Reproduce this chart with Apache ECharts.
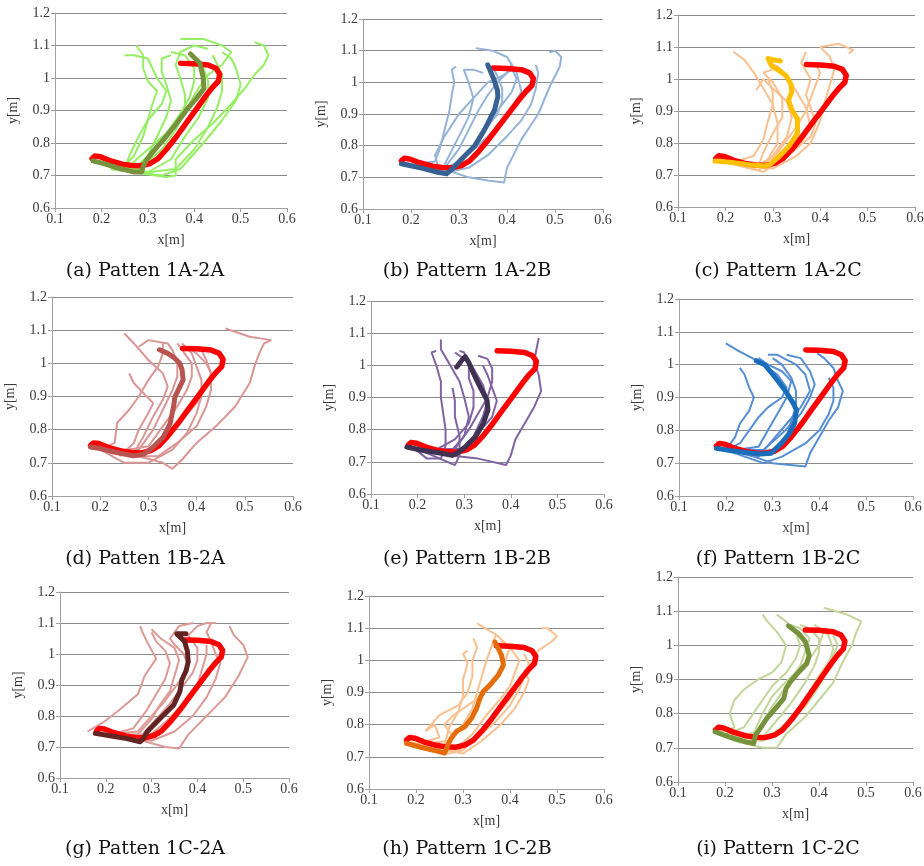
<!DOCTYPE html>
<html><head><meta charset="utf-8">
<script src="https://cdn.jsdelivr.net/npm/echarts@6/dist/echarts.min.js"></script>
<style>html,body{margin:0;padding:0;background:#fff}#c{width:924px;height:866px}</style>
</head><body><div id="c"></div><script>
// Reference (red) trajectory, common to every panel
const redRef = [[0.371,1.045],[0.40,1.044],[0.43,1.04],[0.447,1.03],[0.455,1.012],[0.452,0.99],[0.44,0.972],[0.425,0.945],[0.405,0.905],[0.383,0.862],[0.362,0.82],[0.34,0.78],[0.322,0.752],[0.305,0.737],[0.285,0.73],[0.265,0.731],[0.245,0.735],[0.218,0.746],[0.197,0.758],[0.186,0.76],[0.18,0.752]];

// Panel (a)
const meanA = [[0.392,1.074],[0.412,1.046],[0.419,1.004],[0.421,0.968],[0.408,0.943],[0.383,0.901],[0.362,0.86],[0.333,0.809],[0.308,0.768],[0.297,0.747],[0.29,0.727],[0.287,0.711],[0.269,0.711],[0.24,0.721],[0.211,0.734],[0.182,0.745]];
const lightA = [
 [[0.19,0.745],[0.25,0.73],[0.27,0.76],[0.29,0.82],[0.30,0.87],[0.31,0.92],[0.32,0.96],[0.30,0.99],[0.29,1.03],[0.29,1.07],[0.275,1.10]],
 [[0.19,0.745],[0.27,0.72],[0.30,0.76],[0.32,0.82],[0.34,0.88],[0.35,0.93],[0.34,0.98],[0.33,1.02],[0.33,1.06],[0.35,1.07]],
 [[0.20,0.74],[0.28,0.72],[0.33,0.78],[0.36,0.84],[0.38,0.90],[0.38,0.95],[0.37,1.00],[0.36,1.04],[0.37,1.08],[0.40,1.10],[0.43,1.09]],
 [[0.20,0.74],[0.30,0.71],[0.35,0.75],[0.38,0.82],[0.41,0.88],[0.43,0.94],[0.43,0.99],[0.42,1.03],[0.40,1.06],[0.39,1.08]],
 [[0.21,0.73],[0.30,0.71],[0.36,0.72],[0.40,0.78],[0.43,0.85],[0.45,0.91],[0.46,0.96],[0.46,1.01],[0.45,1.04],[0.44,1.07]],
 [[0.22,0.72],[0.33,0.70],[0.37,0.72],[0.42,0.80],[0.46,0.87],[0.49,0.93],[0.50,0.98],[0.49,1.03],[0.48,1.06],[0.46,1.08]],
 [[0.22,0.72],[0.34,0.695],[0.36,0.70],[0.36,0.75],[0.40,0.81],[0.44,0.86],[0.48,0.92],[0.51,0.97],[0.53,1.01],[0.55,1.04],[0.56,1.07],[0.55,1.10],[0.53,1.11]],
 [[0.22,0.73],[0.28,0.73],[0.32,0.79],[0.36,0.86],[0.39,0.92],[0.41,0.97],[0.43,1.01],[0.46,1.04],[0.48,1.08],[0.46,1.10],[0.42,1.12],[0.37,1.12]],
 [[0.25,0.72],[0.26,0.76],[0.28,0.82],[0.30,0.87],[0.33,0.92],[0.34,0.96],[0.32,1.0],[0.31,1.03],[0.30,1.06],[0.27,1.07],[0.25,1.07]],
 [[0.26,0.73],[0.30,0.78],[0.34,0.83],[0.37,0.89],[0.39,0.94],[0.40,0.99],[0.40,1.03],[0.38,1.07],[0.35,1.08]]
];

// Panel (b)
const meanB = [[0.36,1.055],[0.367,1.03],[0.373,1.008],[0.38,0.975],[0.381,0.955],[0.374,0.913],[0.353,0.85],[0.333,0.80],[0.305,0.757],[0.285,0.725],[0.274,0.711],[0.256,0.716],[0.222,0.729],[0.18,0.743]];
const lightB = [
 [[0.20,0.74],[0.28,0.72],[0.32,0.70],[0.36,0.69],[0.394,0.684],[0.40,0.73],[0.43,0.82],[0.465,0.90],[0.49,0.99],[0.51,1.05],[0.513,1.08],[0.50,1.10],[0.488,1.095]],
 [[0.19,0.745],[0.27,0.715],[0.32,0.73],[0.36,0.77],[0.40,0.83],[0.43,0.88],[0.45,0.93],[0.46,0.98],[0.465,1.03],[0.46,1.055]],
 [[0.19,0.745],[0.26,0.72],[0.30,0.75],[0.34,0.80],[0.38,0.86],[0.41,0.92],[0.43,0.97],[0.42,1.03],[0.40,1.08],[0.37,1.10],[0.335,1.108]],
 [[0.20,0.74],[0.27,0.73],[0.30,0.79],[0.32,0.85],[0.34,0.91],[0.36,0.96],[0.38,1.0],[0.40,1.03],[0.41,1.06]],
 [[0.20,0.74],[0.25,0.75],[0.26,0.79],[0.27,0.85],[0.28,0.91],[0.285,0.96],[0.29,1.00],[0.285,1.04],[0.294,1.05]],
 [[0.21,0.74],[0.26,0.71],[0.28,0.77],[0.30,0.83],[0.32,0.89],[0.33,0.95],[0.32,1.00],[0.31,1.04],[0.33,1.04],[0.35,1.03]],
 [[0.22,0.73],[0.29,0.72],[0.32,0.78],[0.35,0.84],[0.38,0.90],[0.39,0.94],[0.39,0.98],[0.38,1.02],[0.37,1.05]],
 [[0.22,0.73],[0.26,0.71],[0.25,0.77],[0.27,0.83],[0.30,0.90],[0.33,0.95],[0.36,1.0],[0.39,1.02],[0.41,1.04]],
 [[0.24,0.72],[0.30,0.74],[0.33,0.80],[0.36,0.87],[0.39,0.93],[0.41,0.97],[0.42,1.01],[0.41,1.045]]
];

// Panel (c)
const meanC = [[0.316,1.056],[0.30,1.06],[0.29,1.064],[0.288,1.058],[0.298,1.04],[0.315,1.025],[0.328,1.01],[0.338,0.985],[0.34,0.96],[0.336,0.945],[0.333,0.933],[0.34,0.905],[0.352,0.875],[0.352,0.83],[0.334,0.79],[0.313,0.757],[0.295,0.734],[0.283,0.728],[0.25,0.732],[0.21,0.74],[0.178,0.744]];
const lightC = [
 [[0.19,0.745],[0.26,0.72],[0.29,0.75],[0.31,0.80],[0.31,0.86],[0.30,0.92],[0.28,0.97],[0.26,1.02],[0.24,1.06],[0.217,1.085]],
 [[0.19,0.745],[0.27,0.715],[0.30,0.76],[0.33,0.82],[0.34,0.88],[0.33,0.93],[0.30,0.97],[0.28,1.0],[0.265,0.965]],
 [[0.20,0.74],[0.28,0.71],[0.32,0.75],[0.36,0.80],[0.38,0.85],[0.37,0.91],[0.35,0.96],[0.33,1.01],[0.31,1.04],[0.29,1.05]],
 [[0.20,0.74],[0.29,0.72],[0.34,0.77],[0.38,0.82],[0.39,0.86],[0.38,0.91],[0.37,0.95],[0.38,1.0],[0.36,1.05],[0.37,1.085]],
 [[0.20,0.74],[0.30,0.72],[0.35,0.76],[0.38,0.80],[0.40,0.87],[0.41,0.93],[0.42,0.98],[0.43,1.03],[0.42,1.07],[0.40,1.10],[0.44,1.11],[0.47,1.09],[0.46,1.08]],
 [[0.21,0.74],[0.27,0.73],[0.28,0.77],[0.30,0.83],[0.32,0.88],[0.32,0.94],[0.30,0.99],[0.28,1.02],[0.30,1.03]],
 [[0.21,0.74],[0.29,0.73],[0.32,0.79],[0.35,0.85],[0.37,0.90],[0.38,0.94],[0.39,0.98],[0.40,1.02],[0.39,1.05]],
 [[0.22,0.74],[0.26,0.76],[0.28,0.81],[0.29,0.87],[0.30,0.92],[0.30,0.96],[0.29,1.0]]
];

// Panel (d)
const meanD = [[0.323,1.041],[0.34,1.03],[0.352,1.019],[0.365,1.0],[0.37,0.98],[0.372,0.95],[0.362,0.92],[0.355,0.898],[0.352,0.868],[0.345,0.818],[0.331,0.778],[0.31,0.748],[0.29,0.726],[0.269,0.721],[0.234,0.731],[0.2,0.743],[0.18,0.748]];
const lightD = [
 [[0.19,0.745],[0.28,0.72],[0.33,0.70],[0.35,0.682],[0.37,0.71],[0.40,0.76],[0.44,0.81],[0.48,0.87],[0.51,0.94],[0.52,0.99],[0.53,1.03],[0.54,1.06],[0.555,1.07],[0.51,1.08],[0.46,1.105]],
 [[0.19,0.745],[0.27,0.72],[0.32,0.72],[0.36,0.76],[0.40,0.81],[0.42,0.87],[0.43,0.92],[0.43,0.97],[0.42,1.0],[0.40,1.03],[0.38,1.05]],
 [[0.20,0.74],[0.25,0.70],[0.30,0.70],[0.35,0.74],[0.38,0.79],[0.40,0.85],[0.41,0.90],[0.41,0.95],[0.40,0.99],[0.39,1.03],[0.37,1.06]],
 [[0.20,0.74],[0.23,0.76],[0.235,0.82],[0.26,0.86],[0.28,0.90],[0.30,0.95],[0.32,0.99],[0.33,1.03],[0.33,1.06]],
 [[0.20,0.74],[0.27,0.73],[0.29,0.78],[0.31,0.84],[0.33,0.89],[0.34,0.93],[0.33,0.97],[0.30,1.01],[0.27,1.06],[0.25,1.09]],
 [[0.21,0.74],[0.28,0.74],[0.31,0.80],[0.33,0.86],[0.35,0.92],[0.36,0.96],[0.36,1.0],[0.35,1.04],[0.34,1.06],[0.30,1.07],[0.28,1.05]],
 [[0.22,0.73],[0.30,0.75],[0.33,0.81],[0.36,0.87],[0.38,0.92],[0.39,0.96],[0.39,1.0],[0.37,1.04],[0.36,1.06]],
 [[0.22,0.73],[0.29,0.72],[0.33,0.78],[0.37,0.83],[0.40,0.88],[0.42,0.93],[0.43,0.97],[0.42,1.01],[0.41,1.04]],
 [[0.24,0.72],[0.27,0.76],[0.28,0.80],[0.30,0.85],[0.31,0.88],[0.29,0.91],[0.27,0.94],[0.26,0.97]]
];

// Panel (e)
const meanE = [[0.284,0.995],[0.295,1.016],[0.302,1.027],[0.309,1.011],[0.32,0.975],[0.334,0.933],[0.349,0.892],[0.351,0.861],[0.341,0.819],[0.324,0.777],[0.302,0.746],[0.284,0.726],[0.274,0.72],[0.245,0.728],[0.209,0.736],[0.177,0.746]];
const lightE = [
 [[0.19,0.745],[0.27,0.72],[0.33,0.71],[0.39,0.69],[0.40,0.72],[0.41,0.77],[0.43,0.82],[0.45,0.87],[0.465,0.92],[0.46,0.97],[0.45,1.01],[0.455,1.05],[0.46,1.085]],
 [[0.19,0.745],[0.22,0.71],[0.25,0.71],[0.26,0.75],[0.26,0.80],[0.255,0.85],[0.25,0.90],[0.25,0.95],[0.24,1.0],[0.23,1.04],[0.24,1.045]],
 [[0.20,0.74],[0.28,0.69],[0.29,0.72],[0.29,0.78],[0.28,0.84],[0.28,0.89],[0.275,0.93]],
 [[0.20,0.74],[0.27,0.73],[0.30,0.78],[0.31,0.84],[0.30,0.90],[0.29,0.95],[0.27,1.0],[0.25,1.05],[0.25,1.08]],
 [[0.21,0.74],[0.29,0.73],[0.32,0.78],[0.34,0.84],[0.35,0.89],[0.34,0.94],[0.32,0.99],[0.30,1.02],[0.28,1.04]],
 [[0.21,0.74],[0.28,0.74],[0.31,0.80],[0.33,0.85],[0.35,0.90],[0.36,0.95],[0.36,0.99],[0.35,1.02],[0.33,1.03]],
 [[0.22,0.74],[0.30,0.74],[0.33,0.79],[0.36,0.84],[0.37,0.89],[0.36,0.93],[0.35,0.97],[0.34,1.0]],
 [[0.23,0.73],[0.28,0.77],[0.31,0.82],[0.32,0.87],[0.32,0.92],[0.31,0.96],[0.31,1.0],[0.30,1.04],[0.29,1.045]]
];

// Panel (f)
const meanF = [[0.265,1.012],[0.283,1.0],[0.304,0.964],[0.326,0.923],[0.344,0.883],[0.351,0.862],[0.347,0.822],[0.336,0.791],[0.319,0.761],[0.304,0.74],[0.297,0.73],[0.276,0.728],[0.247,0.732],[0.212,0.738],[0.18,0.745]];
const lightF = [
 [[0.19,0.745],[0.26,0.72],[0.30,0.70],[0.37,0.69],[0.38,0.73],[0.40,0.78],[0.42,0.83],[0.44,0.87],[0.45,0.92],[0.44,0.95],[0.43,0.99],[0.41,1.02],[0.395,1.035]],
 [[0.19,0.745],[0.28,0.70],[0.32,0.72],[0.37,0.76],[0.40,0.80],[0.42,0.85],[0.43,0.89],[0.43,0.93],[0.42,0.96]],
 [[0.20,0.74],[0.23,0.76],[0.25,0.80],[0.27,0.84],[0.29,0.87],[0.32,0.90],[0.33,0.93],[0.31,0.97],[0.27,1.01],[0.23,1.04],[0.20,1.065]],
 [[0.20,0.74],[0.22,0.78],[0.23,0.82],[0.25,0.86],[0.26,0.90],[0.25,0.93],[0.24,0.97],[0.23,0.99]],
 [[0.21,0.74],[0.27,0.72],[0.30,0.77],[0.33,0.82],[0.36,0.87],[0.38,0.92],[0.37,0.97],[0.35,1.0],[0.31,1.03],[0.29,1.03]],
 [[0.21,0.74],[0.28,0.74],[0.32,0.79],[0.36,0.85],[0.38,0.90],[0.39,0.94],[0.38,0.98],[0.36,1.02],[0.33,1.03]],
 [[0.22,0.74],[0.27,0.75],[0.29,0.80],[0.31,0.85],[0.33,0.90],[0.34,0.95],[0.32,0.98],[0.29,1.0],[0.27,1.02]],
 [[0.24,0.73],[0.30,0.74],[0.33,0.78],[0.34,0.83],[0.35,0.87],[0.35,0.92],[0.34,0.96],[0.32,1.0],[0.30,1.02]]
];

// Panel (g)
const meanG = [[0.375,1.065],[0.355,1.065],[0.362,1.055],[0.372,1.04],[0.378,1.01],[0.38,0.975],[0.375,0.945],[0.366,0.916],[0.362,0.88],[0.348,0.835],[0.326,0.803],[0.304,0.77],[0.29,0.749],[0.282,0.727],[0.275,0.717],[0.246,0.727],[0.209,0.736],[0.177,0.744]];
const lightG = [
 [[0.16,0.75],[0.195,0.78],[0.23,0.82],[0.27,0.87],[0.285,0.93],[0.31,0.985],[0.29,1.04],[0.28,1.07],[0.275,1.09]],
 [[0.19,0.745],[0.28,0.72],[0.33,0.70],[0.36,0.695],[0.38,0.74],[0.42,0.80],[0.46,0.86],[0.49,0.93],[0.51,0.99],[0.50,1.03],[0.48,1.06],[0.47,1.09]],
 [[0.20,0.74],[0.30,0.72],[0.35,0.75],[0.39,0.80],[0.42,0.86],[0.44,0.92],[0.45,0.97],[0.44,1.0],[0.43,1.04],[0.42,1.07],[0.43,1.10]],
 [[0.20,0.74],[0.27,0.75],[0.30,0.80],[0.33,0.85],[0.36,0.91],[0.38,0.96],[0.37,1.0],[0.35,1.03],[0.34,1.05],[0.36,1.09],[0.39,1.10]],
 [[0.21,0.74],[0.26,0.76],[0.29,0.82],[0.31,0.87],[0.33,0.92],[0.34,0.97],[0.33,1.01],[0.31,1.04],[0.30,1.07]],
 [[0.21,0.74],[0.28,0.74],[0.31,0.79],[0.34,0.84],[0.37,0.90],[0.39,0.94],[0.40,0.98],[0.40,1.02],[0.38,1.06],[0.40,1.09],[0.42,1.10],[0.44,1.10]],
 [[0.22,0.73],[0.29,0.73],[0.33,0.78],[0.37,0.84],[0.40,0.90],[0.41,0.95],[0.42,1.0],[0.42,1.03]],
 [[0.23,0.73],[0.27,0.74],[0.30,0.79],[0.32,0.84],[0.34,0.88],[0.35,0.93],[0.36,0.98],[0.35,1.02],[0.32,1.05],[0.30,1.08]]
];

// Panel (h)
const meanH = [[0.368,1.057],[0.382,1.016],[0.386,0.985],[0.375,0.954],[0.357,0.923],[0.343,0.903],[0.336,0.882],[0.329,0.851],[0.318,0.82],[0.304,0.794],[0.286,0.779],[0.275,0.758],[0.268,0.737],[0.261,0.712],[0.247,0.717],[0.212,0.729],[0.18,0.742]];
const lightH = [
 [[0.19,0.745],[0.26,0.72],[0.28,0.76],[0.26,0.80],[0.28,0.83],[0.31,0.86],[0.34,0.89],[0.36,0.92],[0.38,0.96],[0.39,1.0],[0.40,1.04],[0.37,1.08],[0.33,1.115]],
 [[0.19,0.745],[0.27,0.71],[0.30,0.72],[0.33,0.77],[0.37,0.83],[0.40,0.88],[0.42,0.93],[0.44,0.98],[0.46,1.03],[0.49,1.06],[0.50,1.075],[0.48,1.10],[0.467,1.10]],
 [[0.20,0.74],[0.29,0.72],[0.33,0.76],[0.37,0.81],[0.40,0.86],[0.42,0.91],[0.43,0.95],[0.44,0.99],[0.43,1.02]],
 [[0.20,0.74],[0.25,0.76],[0.24,0.80],[0.22,0.78],[0.25,0.83],[0.29,0.86],[0.31,0.90],[0.32,0.95],[0.32,1.0],[0.33,1.04],[0.322,1.068]],
 [[0.21,0.74],[0.27,0.75],[0.30,0.80],[0.32,0.85],[0.33,0.90],[0.34,0.95],[0.35,1.0],[0.36,1.04],[0.37,1.08]],
 [[0.21,0.74],[0.26,0.73],[0.27,0.79],[0.29,0.84],[0.30,0.89],[0.30,0.94],[0.31,0.99],[0.30,1.02],[0.31,1.03]],
 [[0.22,0.74],[0.28,0.72],[0.32,0.77],[0.35,0.83],[0.38,0.88],[0.40,0.92],[0.41,0.96],[0.42,1.0],[0.40,1.04],[0.38,1.06]],
 [[0.23,0.73],[0.30,0.71],[0.34,0.75],[0.38,0.80],[0.41,0.85],[0.43,0.90],[0.44,0.94],[0.43,0.97]]
];

// Panel (i)
const meanI = [[0.335,1.057],[0.357,1.034],[0.371,1.01],[0.379,0.971],[0.374,0.947],[0.357,0.922],[0.339,0.893],[0.33,0.874],[0.325,0.844],[0.307,0.815],[0.289,0.786],[0.275,0.757],[0.265,0.737],[0.261,0.713],[0.243,0.718],[0.208,0.732],[0.179,0.747]];
const lightI = [
 [[0.18,0.75],[0.22,0.72],[0.28,0.70],[0.31,0.70],[0.33,0.74],[0.37,0.79],[0.40,0.84],[0.43,0.89],[0.45,0.95],[0.47,1.0],[0.48,1.04],[0.49,1.07],[0.46,1.09],[0.41,1.11]],
 [[0.19,0.745],[0.22,0.76],[0.21,0.80],[0.22,0.84],[0.24,0.87],[0.27,0.90],[0.30,0.92],[0.32,0.95],[0.33,1.0],[0.31,1.04],[0.29,1.07],[0.28,1.09]],
 [[0.20,0.74],[0.24,0.76],[0.26,0.80],[0.28,0.84],[0.30,0.88],[0.33,0.92],[0.35,0.96],[0.36,1.0],[0.35,1.04],[0.33,1.07],[0.31,1.09]],
 [[0.20,0.74],[0.28,0.73],[0.31,0.78],[0.34,0.83],[0.37,0.89],[0.39,0.94],[0.40,0.98],[0.40,1.02],[0.38,1.05],[0.36,1.06]],
 [[0.21,0.74],[0.28,0.72],[0.33,0.77],[0.37,0.82],[0.40,0.88],[0.42,0.94],[0.43,0.99],[0.42,1.03],[0.40,1.05]],
 [[0.21,0.74],[0.26,0.74],[0.28,0.80],[0.30,0.85],[0.32,0.88],[0.35,0.92],[0.38,0.96],[0.40,1.0],[0.41,1.04],[0.39,1.06]],
 [[0.22,0.73],[0.30,0.73],[0.34,0.79],[0.37,0.84],[0.39,0.89],[0.41,0.93],[0.43,0.97],[0.44,1.0],[0.43,1.03]],
 [[0.23,0.73],[0.27,0.75],[0.30,0.82],[0.32,0.86],[0.34,0.90],[0.36,0.94],[0.37,0.98],[0.38,1.02],[0.36,1.05],[0.34,1.06]]
];

const captions = ['(a) Patten 1A-2A','(b) Pattern 1A-2B','(c) Pattern 1A-2C','(d) Patten 1B-2A','(e) Pattern 1B-2B','(f) Pattern 1B-2C','(g) Patten 1C-2A','(h) Pattern 1C-2B','(i) Pattern 1C-2C'];
const xAxisMin = 0.1, xAxisMax = 0.6, yAxisMin = 0.6, yAxisMax = 1.2;

const panels = [
 {grid:[55,13,232,195], light:lightA, mean:meanA, lc:'#96ef62', mc:'#76923c'},
 {grid:[363,19,240,190], light:lightB, mean:meanB, lc:'#95b3d7', mc:'#376193'},
 {grid:[678,15,237,192], light:lightC, mean:meanC, lc:'#fac090', mc:'#ffc000'},
 {grid:[52,297,241,199], light:lightD, mean:meanD, lc:'#d99694', mc:'#b9534f'},
 {grid:[371,301,233,193], light:lightE, mean:meanE, lc:'#8064a2', mc:'#3f3151'},
 {grid:[679,299,234,197], light:lightF, mean:meanF, lc:'#558ed5', mc:'#1a6db8'},
 {grid:[60,592,229,186], light:lightG, mean:meanG, lc:'#dc9a97', mc:'#632523'},
 {grid:[369,596,235,193], light:lightH, mean:meanH, lc:'#fac090', mc:'#e46c0a'},
 {grid:[678,577,235,205], light:lightI, mean:meanI, lc:'#c3d69b', mc:'#76923c'}
];
const capPos = [[140,269],[462,269],[773,269],[140,557],[462,557],[773,557],[140,847],[462,847],[773,847]];

const tickFont = {fontFamily:'Liberation Serif', fontSize:14, color:'#3a3a3a'};
const grids=[], xAxes=[], yAxes=[], series=[], titles=[];
panels.forEach((p,i)=>{
  grids.push({left:p.grid[0], top:p.grid[1], width:p.grid[2], height:p.grid[3], outerBoundsMode:'none', containLabel:false});
  xAxes.push({type:'value', gridIndex:i, min:xAxisMin, max:xAxisMax, interval:0.1,
    name:'x[m]', nameLocation:'middle', nameGap:25, nameTextStyle:tickFont,
    axisLine:{onZero:false, lineStyle:{color:'#a0a0a0', width:1}},
    axisTick:{show:true, inside:false, length:4, lineStyle:{color:'#a0a0a0'}},
    axisLabel:Object.assign({margin:4}, tickFont),
    splitLine:{show:false}});
  yAxes.push({type:'value', gridIndex:i, min:yAxisMin, max:yAxisMax, interval:0.1,
    name:'y[m]', nameLocation:'middle', nameGap:35, nameRotate:90, nameTextStyle:tickFont,
    axisLine:{show:true, onZero:false, lineStyle:{color:'#a0a0a0', width:1}},
    axisTick:{show:true, inside:false, length:4, lineStyle:{color:'#a0a0a0'}},
    axisLabel:Object.assign({margin:5}, tickFont),
    splitLine:{show:true, lineStyle:{color:'#8c8c8c', width:1}}});
  p.light.forEach(tr=>{
    series.push({type:'line', xAxisIndex:i, yAxisIndex:i, data:tr, showSymbol:false, silent:true,
      lineStyle:{color:p.lc, width:2}, z:2});
  });
  series.push({type:'line', xAxisIndex:i, yAxisIndex:i, data:redRef, showSymbol:false, silent:true,
    lineStyle:{color:'#ff0000', width:5.5, cap:'round', join:'round'}, z:3});
  series.push({type:'line', xAxisIndex:i, yAxisIndex:i, data:p.mean, showSymbol:false, silent:true,
    lineStyle:{color:p.mc, width:5, cap:'round', join:'round'}, z:4});
  titles.push({text:captions[i], left:capPos[i][0], top:capPos[i][1]-12, textAlign:'center',
    textStyle:{fontFamily:'DejaVu Serif', fontSize:19, fontWeight:'normal', color:'#111'}});
});

const chart = echarts.init(document.getElementById('c'), null, {renderer:'canvas'});
chart.setOption({animation:false, backgroundColor:'#fff', title:titles, grid:grids, xAxis:xAxes, yAxis:yAxes, series:series});
</script></body></html>
